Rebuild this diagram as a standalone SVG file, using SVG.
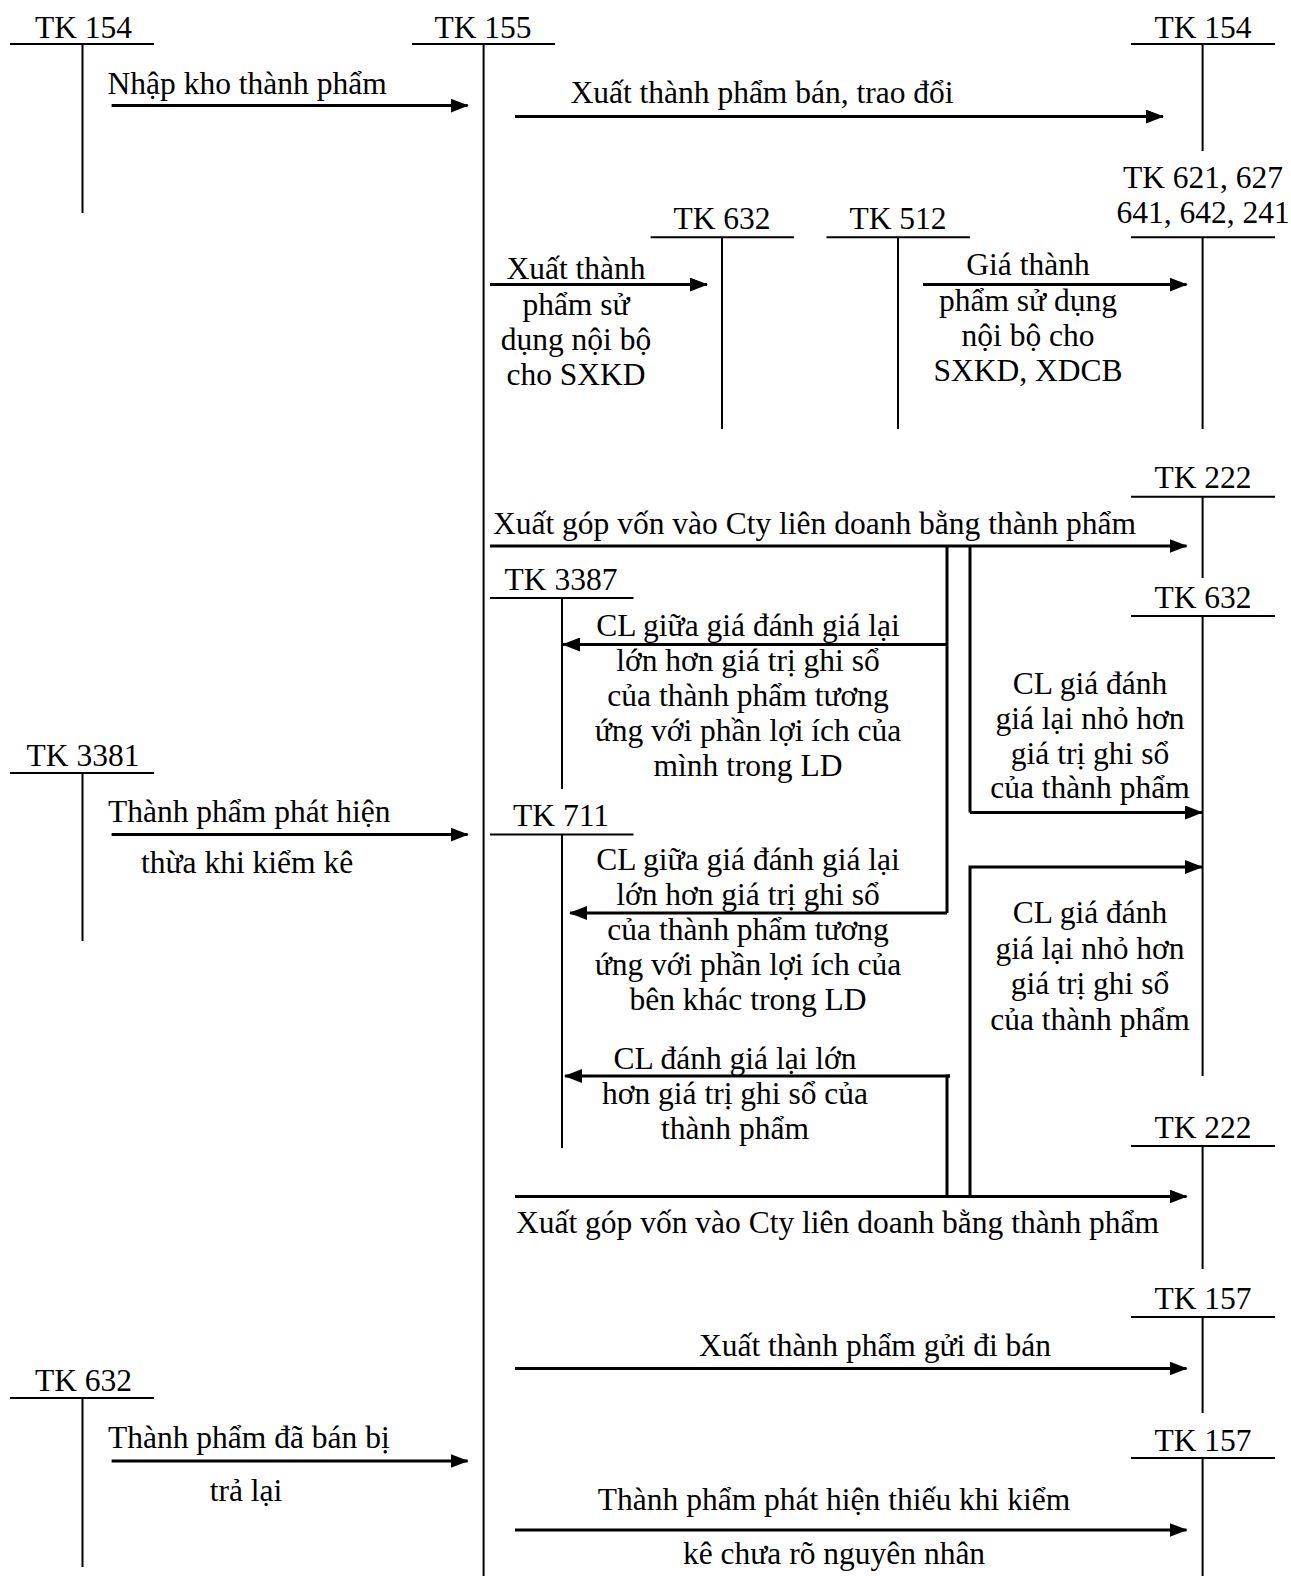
<svg xmlns="http://www.w3.org/2000/svg" width="1291" height="1576" viewBox="0 0 1291 1576">
<defs>
<marker id="ah" markerUnits="userSpaceOnUse" markerWidth="18" markerHeight="14" refX="17" refY="7" orient="auto">
<path d="M0,0 L18,7 L0,14 Z" fill="#000"/>
</marker>
<style>
text{font-family:"Liberation Serif","Times New Roman",serif;font-size:31.5px;fill:#000}
.c{text-anchor:middle}
.t{stroke:#000;stroke-width:2;fill:none}
.a{stroke:#000;stroke-width:3;fill:none;marker-end:url(#ah)}
.l{stroke:#000;stroke-width:3;fill:none}
</style>
</defs>
<rect width="1291" height="1576" fill="#fff"/>

<g id="tk154-left"><text class="c" x="83.5" y="38">TK 154</text><path class="t" d="M10,44 H154 M82.5,44 V213"/></g>
<g id="tk155"><text class="c" x="483" y="38">TK 155</text><path class="t" d="M412,44 H555 M483.6,44 V1576"/></g>
<g id="tk154-right"><text class="c" x="1203" y="38">TK 154</text><path class="t" d="M1131,44 H1275 M1202.6,44 V151"/></g>
<g id="tk621"><text class="c" x="1203" y="188">TK 621, 627</text><text class="c" x="1203" y="223">641, 642, 241</text><path class="t" d="M1131,237.3 H1275 M1202.6,237.3 V429"/></g>
<g id="tk632-mid"><text class="c" x="722" y="229">TK 632</text><path class="t" d="M650.6,237.3 H794 M722,237.3 V429"/></g>
<g id="tk512"><text class="c" x="898" y="229">TK 512</text><path class="t" d="M826.5,237.3 H970 M898,237.3 V429"/></g>
<g id="tk222-a"><text class="c" x="1203" y="488">TK 222</text><path class="t" d="M1131,496.7 H1275 M1202.6,496.7 V578"/></g>
<g id="tk3387"><text class="c" x="561" y="590">TK 3387</text><path class="t" d="M490,598 H633.5 M562,598 V789"/></g>
<g id="tk632-right"><text class="c" x="1203" y="608">TK 632</text><path class="t" d="M1131,616 H1275 M1202.6,616 V1076"/></g>
<g id="tk3381"><text class="c" x="83" y="766">TK 3381</text><path class="t" d="M10,773 H154 M82.5,773 V941"/></g>
<g id="tk711"><text class="c" x="561" y="826">TK 711</text><path class="t" d="M490,834.6 H633.5 M562,834.6 V1148"/></g>
<g id="tk222-b"><text class="c" x="1203" y="1138">TK 222</text><path class="t" d="M1131,1146 H1275 M1202.6,1146 V1269"/></g>
<g id="tk157-a"><text class="c" x="1203" y="1309">TK 157</text><path class="t" d="M1131,1317 H1275 M1202.6,1317 V1413"/></g>
<g id="tk632-left"><text class="c" x="83.5" y="1391">TK 632</text><path class="t" d="M10,1398 H154 M82.5,1398 V1567"/></g>
<g id="tk157-b"><text class="c" x="1203" y="1451">TK 157</text><path class="t" d="M1131,1458 H1275 M1202.6,1458 V1576"/></g>

<g id="connectors">
<path class="a" d="M111.6,105.6 H467.6"/>
<path class="a" d="M515,116.6 H1163"/>
<path class="a" d="M490,284.6 H707"/>
<path class="a" d="M923,284.6 H1186.5"/>
<path class="a" d="M490,546 H1186.5"/>
<path class="l" d="M947,546 V913 M970,546 V812.5"/>
<path class="a" d="M947,644.5 H563"/>
<path class="a" d="M970,812.5 H1202"/>
<path class="a" d="M970,1196.5 V867 H1202"/>
<path class="a" d="M111.6,834.6 H467.6"/>
<path class="a" d="M947,913 H570"/>
<path class="l" d="M950,1076 H947 V1196.5"/>
<path class="a" d="M950,1076 H565"/>
<path class="a" d="M515,1196.5 H1186.5"/>
<path class="a" d="M515,1368.5 H1186.5"/>
<path class="a" d="M111.6,1461 H467.6"/>
<path class="a" d="M515,1530 H1186.5"/>
</g>

<g id="labels">
<text x="107.6" y="94">Nhập kho thành phẩm</text>
<text class="c" x="762" y="103">Xuất thành phẩm bán, trao đổi</text>
<text class="c" x="576" y="279">Xuất thành</text>
<text class="c" x="576" y="315">phẩm sử</text>
<text class="c" x="576" y="350">dụng nội bộ</text>
<text class="c" x="576" y="385">cho SXKD</text>
<text class="c" x="1028" y="275">Giá thành</text>
<text class="c" x="1028" y="311">phẩm sử dụng</text>
<text class="c" x="1028" y="346">nội bộ cho</text>
<text class="c" x="1028" y="381">SXKD, XDCB</text>
<text x="493" y="534">Xuất góp vốn vào Cty liên doanh bằng thành phẩm</text>
<text class="c" x="748" y="636">CL giữa giá đánh giá lại</text>
<text class="c" x="748" y="671">lớn hơn giá trị ghi sổ</text>
<text class="c" x="748" y="706">của thành phẩm tương</text>
<text class="c" x="748" y="741">ứng với phần lợi ích của</text>
<text class="c" x="748" y="776">mình trong LD</text>
<text class="c" x="1090" y="694">CL giá đánh</text>
<text class="c" x="1090" y="729">giá lại nhỏ hơn</text>
<text class="c" x="1090" y="764">giá trị ghi sổ</text>
<text class="c" x="1090" y="798">của thành phẩm</text>
<text x="108" y="822">Thành phẩm phát hiện</text>
<text x="141" y="873">thừa khi kiểm kê</text>
<text class="c" x="748" y="870">CL giữa giá đánh giá lại</text>
<text class="c" x="748" y="905">lớn hơn giá trị ghi sổ</text>
<text class="c" x="748" y="940">của thành phẩm tương</text>
<text class="c" x="748" y="975">ứng với phần lợi ích của</text>
<text class="c" x="748" y="1010">bên khác trong LD</text>
<text class="c" x="1090" y="923">CL giá đánh</text>
<text class="c" x="1090" y="959">giá lại nhỏ hơn</text>
<text class="c" x="1090" y="994">giá trị ghi sổ</text>
<text class="c" x="1090" y="1030">của thành phẩm</text>
<text class="c" x="735" y="1069">CL đánh giá lại lớn</text>
<text class="c" x="735" y="1104">hơn giá trị ghi sổ của</text>
<text class="c" x="735" y="1139">thành phẩm</text>
<text x="516" y="1233">Xuất góp vốn vào Cty liên doanh bằng thành phẩm</text>
<text class="c" x="875" y="1356">Xuất thành phẩm gửi đi bán</text>
<text x="108" y="1448">Thành phẩm đã bán bị</text>
<text class="c" x="246" y="1501">trả lại</text>
<text class="c" x="834" y="1510">Thành phẩm phát hiện thiếu khi kiểm</text>
<text class="c" x="834" y="1564">kê chưa rõ nguyên nhân</text>
</g>
</svg>
